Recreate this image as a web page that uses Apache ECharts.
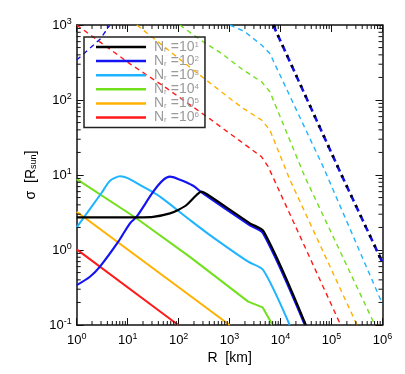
<!DOCTYPE html>
<html>
<head>
<meta charset="UTF-8">
<title>sigma - R</title>
<script src="https://cdn.jsdelivr.net/npm/echarts@6/dist/echarts.min.js"></script>
<style>
html, body { margin: 0; padding: 0; background: #fff; }
#chart { width: 405px; height: 374px; }
</style>
</head>
<body>
<div id="chart"></div>
<script>
// axis ticks (log axes)
var xTicks = [1, 10, 100, 1e3, 1e4, 1e5, 1e6];
var yTicks = [0.1, 1, 10, 100, 1000];

// legend: N_r = 10^n
var legendExp = [1, 2, 3, 4, 5, 6];
var colors = ['#000000', '#1414f0', '#1eb4ff', '#72e01c', '#ffb000', '#ff1a1a'];

// solid curves [R km, sigma]
var blackSolid = [[1, 2.73], [20.2, 2.73], [31.6, 2.76], [67.6, 3.08], [100, 3.45], [143, 3.98], [225, 5.41], [282, 6.0], [354, 5.58], [2500, 2.27], [4710, 1.75], [31300, 0.1]];
var blueSolid = [[1, 0.34], [1.82, 0.44], [2.86, 0.6], [6.55, 1.29], [11.1, 2.27], [15, 2.78], [31.8, 6.0], [50, 8.6], [67.5, 9.5], [100, 8.8], [193, 7.2], [282, 5.85], [2500, 2.13], [4560, 1.66], [30000, 0.1]];
var cyanSolid = [[1, 2.0], [3.09, 5.8], [4.5, 8.4], [7.1, 9.6], [10, 9.1], [20, 7.0], [43, 5.14], [167, 2.51], [411, 1.58], [2317, 0.698], [4560, 0.541], [15100, 0.1]];
var greenSolid = [[1, 8.8], [13.9, 2.73], [166, 0.81], [2317, 0.205], [4436, 0.172], [6966, 0.1]];
var orangeSolid = [[1, 3.24], [1000, 0.1]];
var redSolid = [[1, 1.02], [98, 0.1]];

// dashed curves
var blueDashLeft = [[1, 341], [2.86, 645], [4.5, 1000]];
var blueDash = [[7160, 1000], [157000, 10], [1e6, 0.68]];
var blackDash = [[7160, 1000], [157000, 10], [1e6, 0.68]];
var cyanDash = [[1014, 1000], [1995, 813], [4236, 541], [6166, 417], [68400, 12.9], [1e6, 0.19]];
var greenDash = [[105, 1000], [302, 598], [697, 417], [1849, 251], [4236, 175], [6166, 129], [29900, 9.5], [708000, 0.1]];
var orangeDash = [[15.1, 1000], [263, 214], [1109, 100], [1849, 77.4], [4236, 54.1], [6166, 39.8], [15100, 8.77], [316000, 0.1]];
var redDash = [[1, 1000], [11.5, 299], [59.7, 141.6], [411, 56], [4236, 17.5], [5715, 12.9], [151000, 0.1]];

var solids = [blackSolid, blueSolid, cyanSolid, greenSolid, orangeSolid, redSolid];
var smooths = [0.3, 0.3, 0.25, 0, 0, 0];

// minor tick positions 2..9 per decade
var xMinor = [], yMinor = [];
for (var d = 0; d < 6; d++) for (var k = 2; k < 10; k++) xMinor.push([k * Math.pow(10, d), 1]);
for (var d2 = -1; d2 < 3; d2++) for (var k2 = 2; k2 < 10; k2++) yMinor.push([1, k2 * Math.pow(10, d2)]);

var FONT = 'Liberation Sans, Arial, sans-serif';

function powLabel(v) {
    var e = Math.round(Math.log10(v));
    return '10{sup|' + e + '}';
}
var labelRich = { sup: { fontSize: 9, verticalAlign: 'top', fontFamily: FONT, color: '#000', padding: [0, 0, 7, 0] } };

function logAxis(pos, min, max, showLabel) {
    return {
        type: 'log', logBase: 10, min: min, max: max, position: pos,
        axisLine: { show: true, onZero: false, lineStyle: { color: '#111', width: 1.5 } },
        axisTick: { show: true, inside: true, length: 7, lineStyle: { color: '#111', width: 1 } },
        splitLine: { show: false },
        axisLabel: {
            show: showLabel, formatter: powLabel, color: '#000', fontSize: 13, fontFamily: FONT,
            rich: labelRich
        }
    };
}

var xBottom = logAxis('bottom', 1, 1e6, true);
xBottom.axisLabel.margin = 7;
xBottom.name = 'R  [km]';
xBottom.nameLocation = 'middle';
xBottom.nameGap = 24;
xBottom.nameTextStyle = { color: '#000', fontSize: 14, fontFamily: FONT };
var xTop = logAxis('top', 1, 1e6, false);

var yLeft = logAxis('left', 0.1, 1000, true);
yLeft.axisLabel.margin = 5;
yLeft.name = 'σ  [R{sub|sun}]';
yLeft.nameLocation = 'middle';
yLeft.nameGap = 36;
yLeft.nameTextStyle = { color: '#000', fontSize: 14, fontFamily: FONT,
    rich: { sub: { fontSize: 9, fontFamily: FONT, color: '#000', verticalAlign: 'bottom', padding: [6, 0, 0, 0] } } };
var yRight = logAxis('right', 0.1, 1000, false);

var series = [];

function dashed(data, color, w, pattern, off) {
    return {
        type: 'line', data: data, symbol: 'none', silent: true, xAxisIndex: 0, yAxisIndex: 0,
        lineStyle: { color: color, width: w, type: pattern, dashOffset: off || 0 }, z: 2
    };
}
series.push(dashed(redDash, colors[5], 1.4, [5, 4]));
series.push(dashed(orangeDash, colors[4], 1.4, [5, 4]));
series.push(dashed(greenDash, colors[3], 1.4, [5, 4]));
series.push(dashed(cyanDash, colors[2], 1.4, [5, 4]));
series.push(dashed(blueDashLeft, colors[1], 1.4, [5, 4]));
series.push(dashed(blueDash, '#1010e0', 2.6, [7, 4]));
series.push(dashed(blackDash, colors[0], 2.6, [2.5, 8.5]));

for (var i = solids.length - 1; i >= 0; i--) {
    series.push({
        name: 'n' + legendExp[i], type: 'line', data: solids[i], symbol: 'none',
        smooth: smooths[i], color: colors[i], xAxisIndex: 0, yAxisIndex: 0,
        lineStyle: { color: colors[i], width: i < 2 ? 2.2 : 2 }, z: 3
    });
}

// minor ticks on all four sides
series.push({
    type: 'custom', data: xMinor, silent: true, z: 5,
    renderItem: function (params, api) {
        var cs = params.coordSys;
        var p = api.coord([api.value(0), api.value(1)]);
        var st = { stroke: '#111', lineWidth: 1 };
        return { type: 'group', children: [
            { type: 'line', shape: { x1: p[0], y1: cs.y + cs.height, x2: p[0], y2: cs.y + cs.height - 4 }, style: st },
            { type: 'line', shape: { x1: p[0], y1: cs.y, x2: p[0], y2: cs.y + 4 }, style: st }
        ] };
    }
});
series.push({
    type: 'custom', data: yMinor, silent: true, z: 5,
    renderItem: function (params, api) {
        var cs = params.coordSys;
        var p = api.coord([api.value(0), api.value(1)]);
        var st = { stroke: '#111', lineWidth: 1 };
        return { type: 'group', children: [
            { type: 'line', shape: { x1: cs.x, y1: p[1], x2: cs.x + 4, y2: p[1] }, style: st },
            { type: 'line', shape: { x1: cs.x + cs.width, y1: p[1], x2: cs.x + cs.width - 4, y2: p[1] }, style: st }
        ] };
    }
});

var chart = echarts.init(document.getElementById('chart'), null, { renderer: 'canvas' });
chart.setOption({
    animation: false,
    backgroundColor: '#fff',
    grid: { left: 76.7, right: 22.5, top: 25, bottom: 49, containLabel: false },
    xAxis: [xBottom, xTop],
    yAxis: [yLeft, yRight],
    legend: {
        data: legendExp.map(function (n) { return 'n' + n; }),
        orient: 'vertical', left: 84, top: 37,
        padding: [3, 6, 3, 12],
        borderColor: '#222', borderWidth: 1.5, backgroundColor: 'transparent',
        icon: 'rect', itemWidth: 50, itemHeight: 2.5, itemGap: 0.1,
        itemStyle: { borderWidth: 0 },
        textStyle: {
            color: '#9a9a9a', fontSize: 14, fontFamily: FONT, lineHeight: 13,
            rich: {
                b: { color: '#9a9a9a', fontSize: 14, fontFamily: FONT, lineHeight: 13, padding: [0, 0, 0, 3] },
                r: { color: '#9a9a9a', fontSize: 8, fontFamily: FONT, lineHeight: 13, verticalAlign: 'bottom', padding: [0, 4, 0, 0] },
                e: { color: '#9a9a9a', fontSize: 14, fontFamily: FONT, lineHeight: 13 },
                s: { color: '#9a9a9a', fontSize: 8, fontFamily: FONT, lineHeight: 13, verticalAlign: 'top' }
            }
        },
        formatter: function (name) {
            return '{b|N}{r|r}{e|=10}{s|' + name.slice(1) + '}';
        }
    },
    series: series
});
</script>
</body>
</html>
